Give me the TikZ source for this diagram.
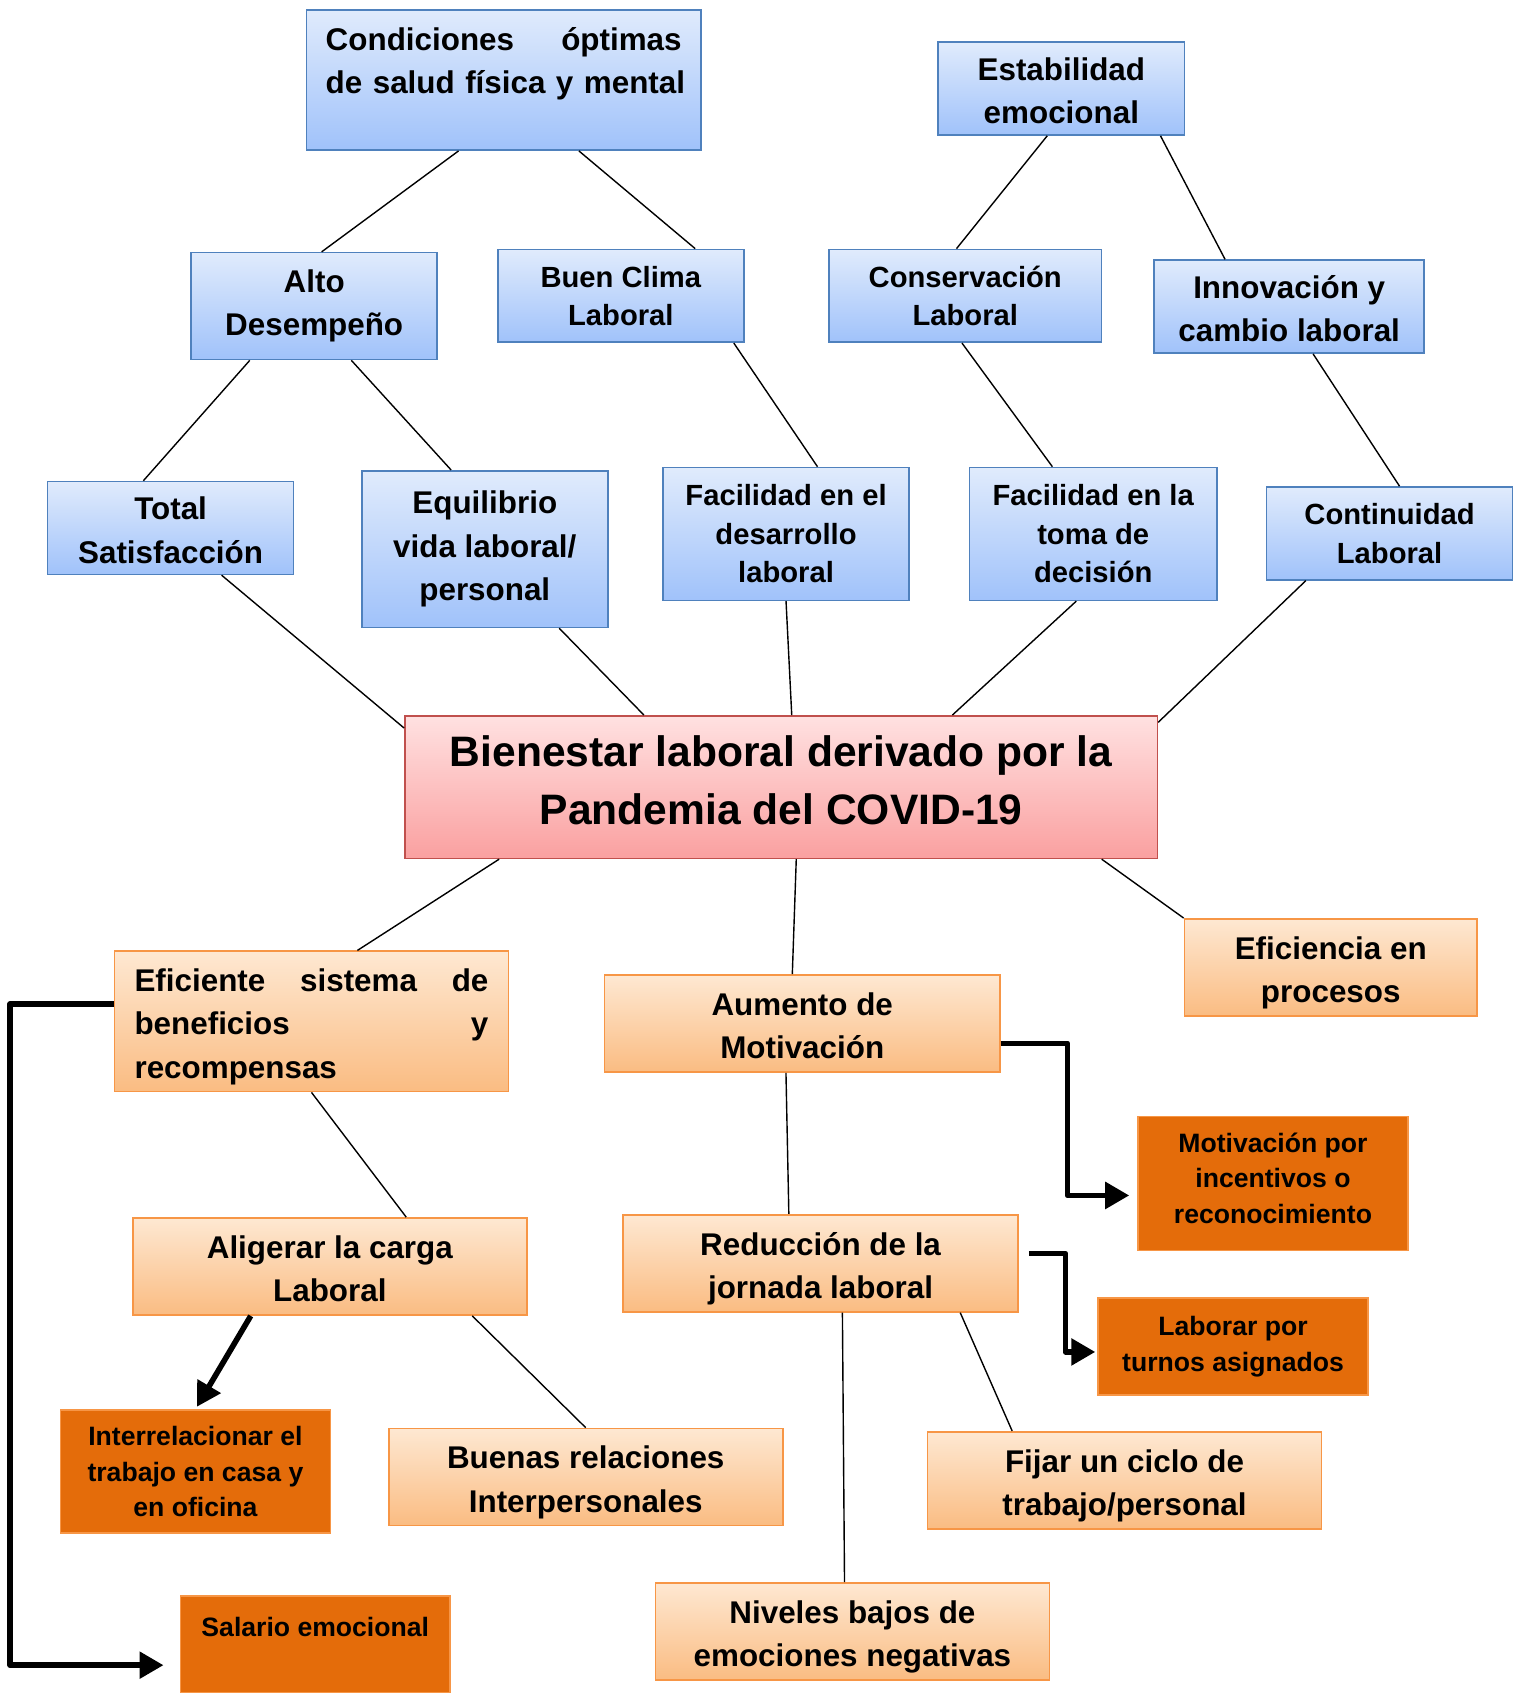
\documentclass[tikz,border=0pt]{standalone}
\usepackage{fontspec}
\setmainfont{Liberation Sans}
\usetikzlibrary{calc,arrows.meta}

\definecolor{blutop}{RGB}{224,235,252}
\definecolor{blubot}{RGB}{160,194,250}
\definecolor{bluline}{RGB}{79,129,189}
\definecolor{redtop}{RGB}{255,225,225}
\definecolor{redbot}{RGB}{250,160,160}
\definecolor{redline}{RGB}{192,80,77}
\definecolor{orgtop}{RGB}{254,232,210}
\definecolor{orgbot}{RGB}{250,188,130}
\definecolor{orgline}{RGB}{247,150,70}
\definecolor{orgdark}{RGB}{228,108,10}

\newcommand\fbig{\fontsize{15.7}{21.6}\selectfont\bfseries}
\newcommand\fmid{\fontsize{14.6}{19.2}\selectfont\bfseries}
\newcommand\fhuge{\fontsize{21.3}{28.6}\selectfont\bfseries}
\newcommand\fsmall{\fontsize{13.3}{17.8}\selectfont\bfseries}
% struts that fix first-line height and last-line depth
\newcommand\hstrut{\rule{0pt}{17.5pt}}
\newcommand\dstrut{\rule[-4pt]{0pt}{4pt}}

\begin{document}
\begin{tikzpicture}[x=0.54pt,y=-0.54pt,
  sz/.style 2 args={minimum width=#1*0.54pt, minimum height=#2*0.54pt},
  blubox/.style={draw=bluline, line width=0.8pt, top color=blutop, bottom color=blubot, inner sep=0pt, align=center},
  redbox/.style={draw=redline, line width=0.8pt, top color=redtop, bottom color=redbot, inner sep=0pt, align=center},
  orgbox/.style={draw=orgline, line width=0.8pt, top color=orgtop, bottom color=orgbot, inner sep=0pt, align=center},
  darkbox/.style={draw=orgline, line width=0.8pt, fill=orgdark, inner sep=0pt, align=center, font=\fsmall},
  link/.style={line width=0.7pt},
  fatarrow/.style={line width=2.8pt, line join=round, -{Triangle[length=12pt,width=13pt]}}]
\useasboundingbox (0,0) rectangle (1410,1568);

% Blue boxes
\node[blubox, sz={365}{130}, text width=178pt, align=left, font=\fbig] (condic) at (466.5,74) {\hstrut\makebox[178pt][s]{Condiciones\hfill óptimas}\\\makebox[178pt][s]{de salud física y mental}\\~\dstrut};
\node[blubox, sz={228}{86}, font=\fbig] (estab) at (983,82) {\hstrut Estabilidad\\emocional\dstrut};
\node[blubox, sz={228}{99}, font=\fbig] (alto) at (291,283.5) {Alto\\Desempeño};
\node[blubox, sz={228}{86}, font=\fmid] (clima) at (575,274) {Buen Clima\\Laboral};
\node[blubox, sz={252}{86}, font=\fmid] (conserv) at (894,274) {Conservación\\Laboral};
\node[blubox, sz={250}{86}, font=\fbig] (innov) at (1194,284) {\hstrut Innovación y\\cambio laboral\dstrut};
\node[blubox, sz={228}{86}, font=\fbig] (total) at (158,489) {\hstrut Total\\Satisfacción\dstrut};
\node[blubox, sz={228}{145}, font=\fbig] (equil) at (449,508.5) {Equilibrio\\vida laboral/\\personal};
\node[blubox, sz={228}{123}, font=\fmid] (facdes) at (728,494.5) {Facilidad en el\\desarrollo\\laboral};
\node[blubox, sz={229}{123}, font=\fmid] (factom) at (1012.5,494.5) {Facilidad en la\\toma de\\decisión};
\node[blubox, sz={228}{86}, font=\fmid] (contin) at (1287,494) {Continuidad\\Laboral};

% Center box
\node[redbox, sz={697}{132}, font=\fhuge] (bien) at (723.5,729) {Bienestar laboral derivado por la\\Pandemia del COVID-19\rule[-7pt]{0pt}{7pt}};

% Orange boxes
\node[orgbox, sz={365}{130}, text width=177pt, align=left, font=\fbig] (eficsis) at (288.5,946) {\hstrut\makebox[177pt][s]{Eficiente\hfill sistema\hfill de}\\\makebox[177pt][s]{beneficios\hfill y}\\recompensas\dstrut};
\node[orgbox, sz={366}{90}, font=\fbig] (aumento) at (743,948) {\hstrut Aumento de\\Motivación\dstrut};
\node[orgbox, sz={271}{90}, font=\fbig] (eficproc) at (1232.5,896) {\hstrut Eficiencia en\\procesos\dstrut};
\node[orgbox, sz={365}{90}, font=\fbig] (aliger) at (305.5,1173) {\hstrut Aligerar la carga\\Laboral\dstrut};
\node[orgbox, sz={366}{90}, font=\fbig] (reduc) at (760,1170) {\hstrut Reducción de la\\jornada laboral\dstrut};
\node[orgbox, sz={365}{90}, font=\fbig] (buenas) at (542.5,1368) {\hstrut Buenas relaciones\\Interpersonales\dstrut};
\node[orgbox, sz={365}{90}, font=\fbig] (fijar) at (1041.5,1371) {\hstrut Fijar un ciclo de\\trabajo/personal\dstrut};
\node[orgbox, sz={365}{90}, font=\fbig] (niveles) at (789.5,1511) {\hstrut Niveles bajos de\\emociones negativas\dstrut};

% Dark orange boxes
\node[darkbox, sz={250}{124}] (motiv) at (1179,1096) {Motivación por\\incentivos o\\reconocimiento\rule[-5.5pt]{0pt}{5.5pt}};
\node[darkbox, sz={250}{90}] (laborar) at (1142,1247) {Laborar por\\turnos asignados};
\node[darkbox, sz={250}{114}] (interrel) at (181,1363) {Interrelacionar el\\trabajo en casa y\\en oficina};
\node[darkbox, sz={250}{90}] (salario) at (292,1523) {Salario emocional\\~};

% Straight Lines (upper part)
\draw[link] ($(condic.south west)!0.386!(condic.south east)$) -- ($(alto.north west)!0.53!(alto.north east)$);
\draw[link] ($(condic.south west)!0.69!(condic.south east)$) -- ($(clima.north west)!0.8!(clima.north east)$);
\draw[link] ($(estab.south west)!0.443!(estab.south east)$) -- ($(conserv.north west)!0.468!(conserv.north east)$);
\draw[link] ($(estab.south west)!0.9!(estab.south east)$) -- ($(innov.north west)!0.264!(innov.north east)$);
\draw[link] ($(alto.south west)!0.24!(alto.south east)$) -- ($(total.north west)!0.39!(total.north east)$);
\draw[link] ($(alto.south west)!0.65!(alto.south east)$) -- ($(equil.north west)!0.364!(equil.north east)$);
\draw[link] ($(clima.south west)!0.956!(clima.south east)$) -- ($(facdes.north west)!0.627!(facdes.north east)$);
\draw[link] ($(conserv.south west)!0.488!(conserv.south east)$) -- ($(factom.north west)!0.336!(factom.north east)$);
\draw[link] ($(innov.south west)!0.588!(innov.south east)$) -- ($(contin.north west)!0.54!(contin.north east)$);
\draw[link] ($(total.south west)!0.706!(total.south east)$) -- ($(bien.north west)!0.09!(bien.south west)$);
\draw[link] ($(equil.south west)!0.8!(equil.south east)$) -- ($(bien.north west)!0.318!(bien.north east)$);
\draw[link] (facdes.south) -- ($(bien.north west)!0.514!(bien.north east)$);
\draw[link] ($(factom.south west)!0.432!(factom.south east)$) -- ($(bien.north west)!0.727!(bien.north east)$);
\draw[link] ($(contin.south west)!0.162!(contin.south east)$) -- ($(bien.north east)!0.05!(bien.south east)$);

% Straight Lines (lower part)
\draw[link] ($(bien.south west)!0.126!(bien.south east)$) -- ($(eficsis.north west)!0.616!(eficsis.north east)$);
\draw[link] ($(bien.south west)!0.52!(bien.south east)$) -- ($(aumento.north west)!0.475!(aumento.north east)$);
\draw[link] ($(bien.south west)!0.925!(bien.south east)$) -- (eficproc.north west);
\draw[link] (eficsis.south) -- ($(aliger.north west)!0.693!(aliger.north east)$);
\draw[link] ($(aumento.south west)!0.459!(aumento.south east)$) -- ($(reduc.north west)!0.42!(reduc.north east)$);
\draw[link] ($(aliger.south west)!0.86!(aliger.south east)$) -- (buenas.north);
\draw[link] ($(reduc.south west)!0.555!(reduc.south east)$) -- ($(niveles.north west)!0.48!(niveles.north east)$);
\draw[link] ($(reduc.south west)!0.852!(reduc.south east)$) -- ($(fijar.north west)!0.216!(fijar.north east)$);

% Thick arrows
\draw[fatarrow, shorten >=8pt] ($(eficsis.north west)!0.377!(eficsis.south west)$) -- ++(-96,0) |- ($(salario.north west)!0.71!(salario.south west)$);
\draw[fatarrow, shorten >=4pt] ($(aumento.north east)!0.7!(aumento.south east)$) -- ++(62,0) |- ($(motiv.north west)!0.589!(motiv.south west)$);
\draw[fatarrow, shorten <=5pt, shorten >=1pt] ($(reduc.north east)!0.4!(reduc.south east)$) -- ++(43,0) |- ($(laborar.north west)!0.556!(laborar.south west)$);
\draw[fatarrow, shorten >=1.5pt] ($(aliger.south west)!0.3!(aliger.south east)$) -- (interrel.north);

\end{tikzpicture}
\end{document}
